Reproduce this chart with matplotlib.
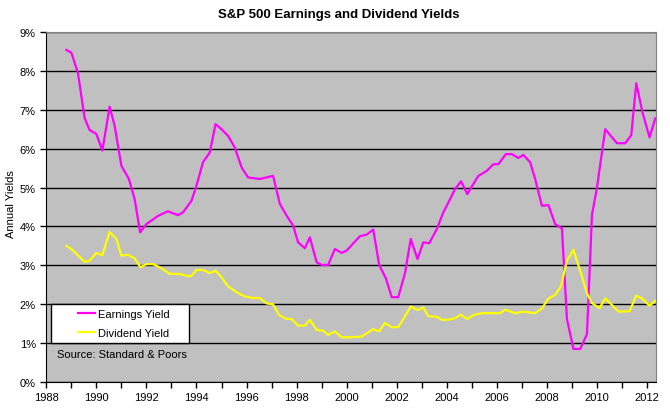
import matplotlib.pyplot as plt
from matplotlib.ticker import FuncFormatter, MultipleLocator
from matplotlib.legend_handler import HandlerLine2D

plt.rcParams['font.family'] = ['Liberation Sans', 'DejaVu Sans']

# earnings yield (year, %)
earn_years = [1988.8, 1989.0, 1989.26, 1989.4, 1989.53, 1989.73, 1990.0, 1990.24, 1990.53, 1990.73,
              1991.0, 1991.3, 1991.53, 1991.66, 1991.75, 1992.0, 1992.46, 1992.86, 1993.26, 1993.46,
              1993.8, 1994.0, 1994.26, 1994.53, 1994.76, 1995.0, 1995.26, 1995.53, 1995.8, 1996.06,
              1996.53, 1997.06, 1997.33, 1997.6, 1997.86, 1998.06, 1998.33, 1998.53, 1998.8, 1999.0,
              1999.26, 1999.53, 1999.8, 2000.0, 2000.53, 2000.8, 2001.06, 2001.3, 2001.57, 2001.8,
              2002.06, 2002.33, 2002.56, 2002.83, 2003.06, 2003.3, 2003.6, 2003.86, 2004.13, 2004.33,
              2004.57, 2004.82, 2005.06, 2005.26, 2005.6, 2005.86, 2006.06, 2006.36, 2006.6, 2006.86,
              2007.06, 2007.33, 2007.53, 2007.8, 2008.06, 2008.33, 2008.6, 2008.8, 2009.06, 2009.33,
              2009.6, 2009.8, 2010.0, 2010.16, 2010.33, 2010.8, 2011.13, 2011.37, 2011.57, 2011.82,
              2012.1, 2012.33]
earn_vals = [8.54, 8.47, 7.96, 7.36, 6.79, 6.48, 6.38, 5.95, 7.08, 6.59,
             5.56, 5.22, 4.70, 4.19, 3.85, 4.06, 4.27, 4.39, 4.29, 4.36,
             4.66, 5.05, 5.65, 5.90, 6.63, 6.50, 6.33, 6.03, 5.52, 5.26,
             5.22, 5.30, 4.58, 4.28, 4.02, 3.59, 3.44, 3.72, 3.08, 3.01,
             3.01, 3.42, 3.32, 3.38, 3.75, 3.79, 3.92, 3.01, 2.66, 2.18,
             2.18, 2.80, 3.68, 3.16, 3.59, 3.57, 3.93, 4.36, 4.70, 4.96,
             5.16, 4.83, 5.09, 5.30, 5.43, 5.60, 5.60, 5.86, 5.86, 5.76,
             5.84, 5.65, 5.22, 4.53, 4.55, 4.06, 3.95, 1.62, 0.85, 0.85,
             1.23, 4.30, 5.00, 5.73, 6.50, 6.14, 6.14, 6.35, 7.68, 6.93,
             6.29, 6.78]

# dividend yield (year, %)
div_years = [1988.8, 1989.0, 1989.53, 1989.73, 1990.0, 1990.24, 1990.53, 1990.8, 1991.0, 1991.26,
             1991.53, 1991.76, 1992.0, 1992.26, 1992.53, 1992.93, 1993.33, 1993.66, 1993.8, 1994.0,
             1994.26, 1994.53, 1994.77, 1995.0, 1995.26, 1995.6, 1995.93, 1996.26, 1996.53, 1996.8,
             1997.06, 1997.3, 1997.6, 1997.8, 1998.06, 1998.33, 1998.53, 1998.8, 1999.06, 1999.26,
             1999.53, 1999.8, 2000.13, 2000.6, 2001.06, 2001.3, 2001.53, 2001.8, 2002.06, 2002.33,
             2002.56, 2002.83, 2003.06, 2003.26, 2003.6, 2003.8, 2004.06, 2004.33, 2004.56, 2004.82,
             2005.06, 2005.4, 2006.13, 2006.33, 2006.73, 2007.06, 2007.53, 2007.8, 2008.06, 2008.33,
             2008.56, 2008.8, 2009.06, 2009.33, 2009.6, 2009.8, 2010.1, 2010.33, 2010.6, 2010.86,
             2011.3, 2011.57, 2011.8, 2012.1, 2012.33]
div_vals = [3.50, 3.42, 3.09, 3.12, 3.32, 3.26, 3.86, 3.68, 3.25, 3.27,
            3.18, 2.95, 3.03, 3.03, 2.95, 2.78, 2.78, 2.72, 2.73, 2.88,
            2.88, 2.80, 2.86, 2.69, 2.46, 2.31, 2.20, 2.16, 2.16, 2.02,
            2.00, 1.72, 1.62, 1.62, 1.45, 1.45, 1.60, 1.34, 1.32, 1.21,
            1.30, 1.15, 1.15, 1.17, 1.36, 1.30, 1.52, 1.41, 1.41, 1.69,
            1.94, 1.85, 1.92, 1.69, 1.68, 1.60, 1.60, 1.64, 1.73, 1.62,
            1.72, 1.77, 1.77, 1.86, 1.77, 1.81, 1.77, 1.89, 2.15, 2.24,
            2.46, 3.12, 3.40, 2.86, 2.28, 2.03, 1.90, 2.15, 1.98, 1.81,
            1.82, 2.22, 2.15, 1.96, 2.09]

fig = plt.figure(figsize=(6.7, 4.1), dpi=100)
ax = fig.add_axes([46.3 / 670, 27 / 410, 610 / 670, 350 / 410])
ax.set_facecolor('#C0C0C0')

ax.plot(earn_years, earn_vals, color='#FF00FF', lw=1.6, label='Earnings Yield')
ax.plot(div_years, div_vals, color='#FFFF00', lw=1.6, label='Dividend Yield')

ax.set_xlim(1988, 2012.37)
ax.set_ylim(0, 9)
ax.xaxis.set_major_locator(MultipleLocator(2))
ax.xaxis.set_minor_locator(MultipleLocator(1))
ax.yaxis.set_major_locator(MultipleLocator(1))
ax.yaxis.set_major_formatter(FuncFormatter(lambda v, p: '%d%%' % v))
ax.tick_params(labelsize=8, length=4, width=1, colors='black')
ax.tick_params(which='minor', length=4, width=1)
ax.tick_params(axis='x', pad=3)
ax.grid(axis='y', color='black', lw=1)
ax.set_axisbelow(True)

for s in ['top', 'right']:
    ax.spines[s].set_color('#808080')
for s in ['left', 'bottom']:
    ax.spines[s].set_color('black')

ax.set_ylabel('Annual Yields', fontsize=8)
ax.yaxis.set_label_coords(-0.049, 0.51)
fig.text(0.505, 0.963, 'S&P 500 Earnings and Dividend Yields', ha='center', va='center',
         fontsize=9.5, fontweight='bold')

# legend box sits between the 1% and 2% gridlines, handles indented
leg = ax.legend(loc='lower left', bbox_to_anchor=(0.0085, 1 / 9, 0.226, 1 / 9), mode='expand',
                borderaxespad=0, fancybox=False, framealpha=1, edgecolor='black',
                fontsize=8, handlelength=3.5, handletextpad=0.2, labelspacing=0.8,
                borderpad=0.45, handler_map={plt.Line2D: HandlerLine2D(xpad=1.9)})
leg.get_frame().set_linewidth(1)
leg.get_frame().set_facecolor('white')

ax.text(1988.41, 0.72, 'Source: Standard & Poors', fontsize=8, va='center', ha='left')

fig.savefig('out.png', dpi=100)
